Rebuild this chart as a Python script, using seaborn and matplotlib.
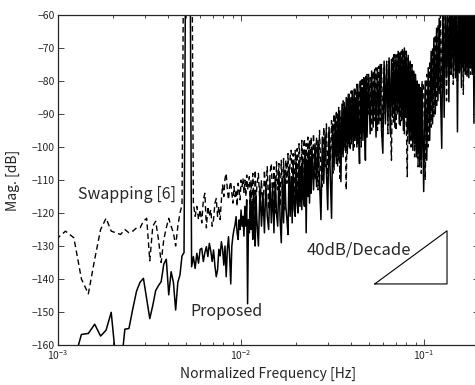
import numpy as np
import pandas as pd
import matplotlib
matplotlib.use("Agg")
import matplotlib.pyplot as plt
import seaborn as sns

# FFT bin indices (normalized frequency = bin / 8192), coarser where the plot is a solid band
bins = (list(range(8, 101)) + list(range(102, 201, 2)) + list(range(204, 401, 4))
        + list(range(408, 801, 8)) + list(range(816, 1633, 16)))
nfft = 8192

# Proposed (solid), dB
proposed_low = [-175, -172, -165, -156.8, -156.5, -153.7, -157.3, -155.5, -150.1, -165,
                -168, -155.2, -155, -149, -143.7, -141, -139.8, -146, -152, -148,
                -143.5, -142, -140.8, -135.5, -134, -144.8, -137.8, -141, -149.4, -141,
                -138.8, -133, -132, -20, -18, -20, -136.3, -133.2, -136.8, -132.2,
                -135.2, -131, -130.7, -134.7, -132, -130.2, -133.2, -129.2, -131.5, -134.7,
                -131.2, -136, -139.3, -137.3, -131, -133, -128.7, -131, -135.8, -130,
                -139.3, -131, -127.2, -133, -141.5, -130, -127, -125, -123.6, -121.1,
                -126, -128, -122.1, -125, -119.1, -124, -121, -127, -118, -124,
                -116, -147.5, -122,
                -126, -114, -125, -117, -128, -113, -124, -130, -115, -122]
proposed_mid = [-130, -112, -124, -114, -126, -111, -121, -125, -110, -123,
                -112, -126, -109, -120, -124, -108, -122, -129, -110, -123,
                -107, -118, -122, -126.5, -106, -121, -109, -123, -105, -119,
                -121, -104.5, -117, -120, -104, -118, -106, -119, -103, -116,
                -118, -102, -126, -104, -115, -101, -117, -103, -114, -100,
                -113, -99, -112, -98, -110, -122, -97, -111, -96, -108,
                -119, -94, -109, -121.6, -93, -107, -91, -105, -90, -104,
                -89, -110.5, -87, -103, -86.5, -101, -85, -102, -84, -100,
                -86, -99, -83, -101, -82.5, -98, -85, -100, -81, -97,
                -105, -80, -96, -82, -98, -79, -95, -104, -78.5, -97]
proposed_high = [-78, -96, -77, -94, -76.5, -97, -76, -93, -75, -95,
                 -101.9, -74, -93, -75, -92, -73, -96, -73.5, -91, -72,
                 -94, -72.5, -90, -71, -93, -71.5, -92, -70.5, -95, -70,
                 -91, -71, -96, -73, -99, -74, -97, -76, -101, -77,
                 -99, -78, -103, -80, -102, -81, -106, -82, -104, -81,
                 -113.5, -80, -104, -76, -98, -71, -93, -67, -90, -64,
                 -86, -61, -83, -100.4, -58, -91, -57, -79, -56, -86.3,
                 -57, -78, -55, -77, -56, -79, -55, -95.4, -56, -77,
                 -54, -82, -55, -76, -56, -78, -54, -77, -55, -79,
                 -54, -76, -55, -78, -54, -92.8, -55, -77, -54, -78,
                 -55, -76]

# Swapping [6] (dashed), dB
swapping_low = [-128, -125.5, -127.5, -140, -144.5, -134, -125, -121.6, -125.5, -126,
                -126.5, -125, -126, -125.5, -124.5, -124.5, -122.5, -121.6, -134.5, -124,
                -122.5, -128, -135, -128, -124.5, -121.6, -124, -126, -130, -124,
                -120, -117.6, -20, -18, -17, -18, -20, -117, -121, -118,
                -122, -119, -123, -116, -114, -124.5, -118, -121, -119, -124,
                -122, -117, -115.6, -121, -118, -122, -116, -111.5, -115, -109.5,
                -108, -113, -116, -112, -110.5, -114, -117, -112, -115, -113,
                -118, -111, -113, -116, -110, -112, -109.5, -114, -110, -115,
                -108.5, -113, -111,
                -109, -118, -110, -121, -108, -114, -119, -107, -116, -112]
swapping_mid = [-108, -118, -110, -121, -107, -115, -106, -119, -108, -105,
                -117, -106, -120, -104.5, -113, -105, -118, -104, -114, -103.5,
                -119, -104, -111, -102, -116, -103, -101, -114, -102, -117,
                -101, -110, -100.5, -115, -99, -103, -113, -98, -111, -100,
                -97.5, -114, -99, -109, -97, -112, -98, -107, -97, -110,
                -96, -110, -97, -113, -95, -108, -112, -94, -106, -93,
                -110, -95, -104, -92, -108, -90, -103, -89, -106, -88,
                -109.5, -91, -102, -86, -100, -88, -113, -85, -99, -84,
                -101, -83, -97, -85, -100, -82, -96, -81, -99, -83,
                -95, -80, -100, -79, -94, -81, -97, -79, -93, -78]
swapping_high = [-90, -79, -95, -77, -92, -76, -95, -75.5, -92, -75,
                 -94, -76, -90, -74, -96, -74, -91, -104, -73, -93,
                 -72, -95, -72, -90, -71.5, -94, -71, -92, -70.5, -96,
                 -71, -93, -109, -72, -95, -74, -100, -75, -97, -77,
                 -103, -79, -100, -80, -106, -81, -102, -83, -108, -80,
                 -82, -110, -78, -100, -74, -94, -70, -91, -66, -88,
                 -63, -84, -60, -82, -58, -80, -57, -86, -56, -79,
                 -57, -78, -55, -81, -56, -77, -55, -80, -56, -78,
                 -54, -77, -55, -84, -56, -77, -54, -79, -55, -76,
                 -54, -78, -55, -77, -54, -79, -55, -77, -54, -76,
                 -55, -78]

proposed = proposed_low + proposed_mid + proposed_high
swapping = swapping_low + swapping_mid + swapping_high
assert len(proposed) == len(bins) == len(swapping)

freq = np.array(bins) / nfft

# slope guide triangle
tri_f = [0.0538, 0.1336, 0.1336, 0.0538]
tri_db = [-141.5, -125.4, -141.5, -141.5]

sns.set_style("ticks")
plt.rcParams['font.family'] = ['Noto Sans CJK JP', 'DejaVu Sans']

fig = plt.figure(figsize=(4.75, 3.85), dpi=100)
ax = fig.add_axes([58 / 475, 40 / 385, 0.8865, 330 / 385])

df = pd.DataFrame({'freq': np.r_[freq, freq],
                   'mag': proposed + swapping,
                   'method': ['Proposed'] * len(freq) + ['Swapping [6]'] * len(freq)})

sns.lineplot(data=df[df.method == 'Swapping [6]'], x='freq', y='mag', ax=ax,
             color='black', lw=1.0, linestyle=(0, (4, 2.5)), estimator=None, sort=False)
sns.lineplot(data=df[df.method == 'Proposed'], x='freq', y='mag', ax=ax,
             color='black', lw=1.1, estimator=None, sort=False)

ax.plot(tri_f, tri_db, color='black', lw=0.8)

ax.set_xscale('log')
ax.set_xlim(1e-3, 0.2)
ax.set_ylim(-160, -60)
ax.set_yticks(np.arange(-160, -59, 10))
ax.tick_params(which='both', direction='in', top=True, right=True, labelsize=7.5,
               width=0.6, pad=2.5)
ax.tick_params(which='major', length=4)
ax.tick_params(which='minor', length=2.5)
for s in ax.spines.values():
    s.set_linewidth(0.9)

ax.set_xlabel('Normalized Frequency [Hz]', fontsize=10, labelpad=3)
ax.set_ylabel('Mag. [dB]', fontsize=10, labelpad=8)

ax.text(0.001286, -114.3, 'Swapping [6]', fontsize=11.5, va='center', ha='left')
ax.text(0.00526, -149.8, 'Proposed', fontsize=11.5, va='center', ha='left')
ax.text(0.0229, -131.2, '40dB/Decade', fontsize=12, va='center', ha='left')

fig.savefig('out.png', dpi=100)
